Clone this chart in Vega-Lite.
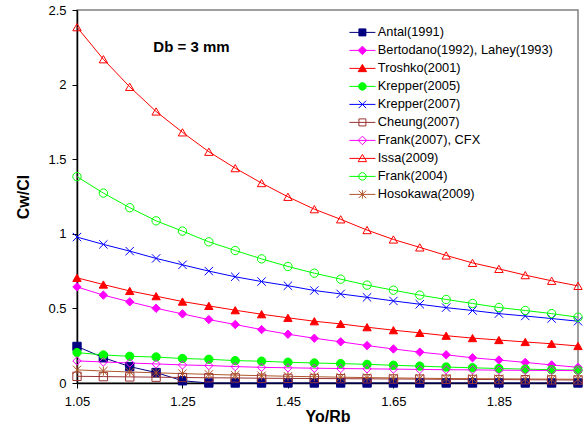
{
"$schema": "https://vega.github.io/schema/vega-lite/v6.json",
"width": 501, "height": 373,
"autosize": "none",
"padding": {"left": 77, "top": 10, "right": 9, "bottom": 46},
"background": "white",
"config": {
  "view": {"stroke": "#808080", "strokeWidth": 1.5},
  "axis": {"grid": false, "domainColor": "black", "domainWidth": 1.5, "tickColor": "black", "tickSize": 5, "labelColor": "black", "labelFont": "Liberation Sans", "labelFontSize": 13, "labelFlush": false, "titleFont": "Liberation Sans", "titleFontSize": 16, "titleFontWeight": "bold", "titleColor": "black"},
  "legend": {"labelFont": "Liberation Sans", "labelFontSize": 12.8, "labelColor": "black", "labelLimit": 0}
},
"resolve": {"scale": {"stroke": "independent", "fill": "independent", "shape": "independent"}},
"datasets": {
"curves": [
{"s":"Antal(1991)","x":1.05,"y":0.245},{"s":"Antal(1991)","x":1.10,"y":0.17},{"s":"Antal(1991)","x":1.15,"y":0.11},{"s":"Antal(1991)","x":1.20,"y":0.07},{"s":"Antal(1991)","x":1.25,"y":0.015},{"s":"Antal(1991)","x":1.30,"y":0},{"s":"Antal(1991)","x":1.35,"y":0},{"s":"Antal(1991)","x":1.40,"y":0},{"s":"Antal(1991)","x":1.45,"y":0},{"s":"Antal(1991)","x":1.50,"y":0},{"s":"Antal(1991)","x":1.55,"y":0},{"s":"Antal(1991)","x":1.60,"y":0},{"s":"Antal(1991)","x":1.65,"y":0},{"s":"Antal(1991)","x":1.70,"y":0},{"s":"Antal(1991)","x":1.75,"y":0},{"s":"Antal(1991)","x":1.80,"y":0},{"s":"Antal(1991)","x":1.85,"y":0},{"s":"Antal(1991)","x":1.90,"y":0},{"s":"Antal(1991)","x":1.95,"y":0},{"s":"Antal(1991)","x":2.00,"y":0},
{"s":"Bertodano(1992), Lahey(1993)","x":1.05,"y":0.644},{"s":"Bertodano(1992), Lahey(1993)","x":1.10,"y":0.589},{"s":"Bertodano(1992), Lahey(1993)","x":1.15,"y":0.544},{"s":"Bertodano(1992), Lahey(1993)","x":1.20,"y":0.501},{"s":"Bertodano(1992), Lahey(1993)","x":1.25,"y":0.463},{"s":"Bertodano(1992), Lahey(1993)","x":1.30,"y":0.425},{"s":"Bertodano(1992), Lahey(1993)","x":1.35,"y":0.392},{"s":"Bertodano(1992), Lahey(1993)","x":1.40,"y":0.358},{"s":"Bertodano(1992), Lahey(1993)","x":1.45,"y":0.327},{"s":"Bertodano(1992), Lahey(1993)","x":1.50,"y":0.300},{"s":"Bertodano(1992), Lahey(1993)","x":1.55,"y":0.276},{"s":"Bertodano(1992), Lahey(1993)","x":1.60,"y":0.251},{"s":"Bertodano(1992), Lahey(1993)","x":1.65,"y":0.228},{"s":"Bertodano(1992), Lahey(1993)","x":1.70,"y":0.207},{"s":"Bertodano(1992), Lahey(1993)","x":1.75,"y":0.189},{"s":"Bertodano(1992), Lahey(1993)","x":1.80,"y":0.169},{"s":"Bertodano(1992), Lahey(1993)","x":1.85,"y":0.154},{"s":"Bertodano(1992), Lahey(1993)","x":1.90,"y":0.138},{"s":"Bertodano(1992), Lahey(1993)","x":1.95,"y":0.121},{"s":"Bertodano(1992), Lahey(1993)","x":2.00,"y":0.105},
{"s":"Troshko(2001)","x":1.05,"y":0.705},{"s":"Troshko(2001)","x":1.10,"y":0.660},{"s":"Troshko(2001)","x":1.15,"y":0.617},{"s":"Troshko(2001)","x":1.20,"y":0.582},{"s":"Troshko(2001)","x":1.25,"y":0.546},{"s":"Troshko(2001)","x":1.30,"y":0.517},{"s":"Troshko(2001)","x":1.35,"y":0.488},{"s":"Troshko(2001)","x":1.40,"y":0.461},{"s":"Troshko(2001)","x":1.45,"y":0.437},{"s":"Troshko(2001)","x":1.50,"y":0.414},{"s":"Troshko(2001)","x":1.55,"y":0.396},{"s":"Troshko(2001)","x":1.60,"y":0.374},{"s":"Troshko(2001)","x":1.65,"y":0.354},{"s":"Troshko(2001)","x":1.70,"y":0.336},{"s":"Troshko(2001)","x":1.75,"y":0.317},{"s":"Troshko(2001)","x":1.80,"y":0.301},{"s":"Troshko(2001)","x":1.85,"y":0.288},{"s":"Troshko(2001)","x":1.90,"y":0.275},{"s":"Troshko(2001)","x":1.95,"y":0.263},{"s":"Troshko(2001)","x":2.00,"y":0.248},
{"s":"Krepper(2005)","x":1.05,"y":0.204},{"s":"Krepper(2005)","x":1.10,"y":0.188},{"s":"Krepper(2005)","x":1.15,"y":0.179},{"s":"Krepper(2005)","x":1.20,"y":0.174},{"s":"Krepper(2005)","x":1.25,"y":0.164},{"s":"Krepper(2005)","x":1.30,"y":0.159},{"s":"Krepper(2005)","x":1.35,"y":0.150},{"s":"Krepper(2005)","x":1.40,"y":0.146},{"s":"Krepper(2005)","x":1.45,"y":0.139},{"s":"Krepper(2005)","x":1.50,"y":0.134},{"s":"Krepper(2005)","x":1.55,"y":0.130},{"s":"Krepper(2005)","x":1.60,"y":0.125},{"s":"Krepper(2005)","x":1.65,"y":0.119},{"s":"Krepper(2005)","x":1.70,"y":0.113},{"s":"Krepper(2005)","x":1.75,"y":0.107},{"s":"Krepper(2005)","x":1.80,"y":0.102},{"s":"Krepper(2005)","x":1.85,"y":0.097},{"s":"Krepper(2005)","x":1.90,"y":0.093},{"s":"Krepper(2005)","x":1.95,"y":0.089},{"s":"Krepper(2005)","x":2.00,"y":0.086},
{"s":"Krepper(2007)","x":1.05,"y":0.978},{"s":"Krepper(2007)","x":1.10,"y":0.929},{"s":"Krepper(2007)","x":1.15,"y":0.884},{"s":"Krepper(2007)","x":1.20,"y":0.835},{"s":"Krepper(2007)","x":1.25,"y":0.792},{"s":"Krepper(2007)","x":1.30,"y":0.750},{"s":"Krepper(2007)","x":1.35,"y":0.712},{"s":"Krepper(2007)","x":1.40,"y":0.680},{"s":"Krepper(2007)","x":1.45,"y":0.652},{"s":"Krepper(2007)","x":1.50,"y":0.620},{"s":"Krepper(2007)","x":1.55,"y":0.597},{"s":"Krepper(2007)","x":1.60,"y":0.574},{"s":"Krepper(2007)","x":1.65,"y":0.550},{"s":"Krepper(2007)","x":1.70,"y":0.528},{"s":"Krepper(2007)","x":1.75,"y":0.505},{"s":"Krepper(2007)","x":1.80,"y":0.486},{"s":"Krepper(2007)","x":1.85,"y":0.465},{"s":"Krepper(2007)","x":1.90,"y":0.449},{"s":"Krepper(2007)","x":1.95,"y":0.432},{"s":"Krepper(2007)","x":2.00,"y":0.414},
{"s":"Cheung(2007)","x":1.05,"y":0.045},{"s":"Cheung(2007)","x":1.10,"y":0.043},{"s":"Cheung(2007)","x":1.15,"y":0.041},{"s":"Cheung(2007)","x":1.20,"y":0.039},{"s":"Cheung(2007)","x":1.25,"y":0.037},{"s":"Cheung(2007)","x":1.30,"y":0.035},{"s":"Cheung(2007)","x":1.35,"y":0.034},{"s":"Cheung(2007)","x":1.40,"y":0.032},{"s":"Cheung(2007)","x":1.45,"y":0.031},{"s":"Cheung(2007)","x":1.50,"y":0.030},{"s":"Cheung(2007)","x":1.55,"y":0.029},{"s":"Cheung(2007)","x":1.60,"y":0.028},{"s":"Cheung(2007)","x":1.65,"y":0.027},{"s":"Cheung(2007)","x":1.70,"y":0.026},{"s":"Cheung(2007)","x":1.75,"y":0.025},{"s":"Cheung(2007)","x":1.80,"y":0.024},{"s":"Cheung(2007)","x":1.85,"y":0.023},{"s":"Cheung(2007)","x":1.90,"y":0.022},{"s":"Cheung(2007)","x":1.95,"y":0.021},{"s":"Cheung(2007)","x":2.00,"y":0.020},
{"s":"Frank(2007), CFX","x":1.05,"y":0.148},{"s":"Frank(2007), CFX","x":1.10,"y":0.141},{"s":"Frank(2007), CFX","x":1.15,"y":0.134},{"s":"Frank(2007), CFX","x":1.20,"y":0.128},{"s":"Frank(2007), CFX","x":1.25,"y":0.121},{"s":"Frank(2007), CFX","x":1.30,"y":0.117},{"s":"Frank(2007), CFX","x":1.35,"y":0.110},{"s":"Frank(2007), CFX","x":1.40,"y":0.105},{"s":"Frank(2007), CFX","x":1.45,"y":0.102},{"s":"Frank(2007), CFX","x":1.50,"y":0.099},{"s":"Frank(2007), CFX","x":1.55,"y":0.097},{"s":"Frank(2007), CFX","x":1.60,"y":0.095},{"s":"Frank(2007), CFX","x":1.65,"y":0.093},{"s":"Frank(2007), CFX","x":1.70,"y":0.091},{"s":"Frank(2007), CFX","x":1.75,"y":0.089},{"s":"Frank(2007), CFX","x":1.80,"y":0.088},{"s":"Frank(2007), CFX","x":1.85,"y":0.086},{"s":"Frank(2007), CFX","x":1.90,"y":0.085},{"s":"Frank(2007), CFX","x":1.95,"y":0.084},{"s":"Frank(2007), CFX","x":2.00,"y":0.083},
{"s":"Issa(2009)","x":1.05,"y":2.385},{"s":"Issa(2009)","x":1.10,"y":2.17},{"s":"Issa(2009)","x":1.15,"y":1.985},{"s":"Issa(2009)","x":1.20,"y":1.82},{"s":"Issa(2009)","x":1.25,"y":1.68},{"s":"Issa(2009)","x":1.30,"y":1.55},{"s":"Issa(2009)","x":1.35,"y":1.44},{"s":"Issa(2009)","x":1.40,"y":1.34},{"s":"Issa(2009)","x":1.45,"y":1.248},{"s":"Issa(2009)","x":1.50,"y":1.165},{"s":"Issa(2009)","x":1.55,"y":1.097},{"s":"Issa(2009)","x":1.60,"y":1.025},{"s":"Issa(2009)","x":1.65,"y":0.962},{"s":"Issa(2009)","x":1.70,"y":0.909},{"s":"Issa(2009)","x":1.75,"y":0.855},{"s":"Issa(2009)","x":1.80,"y":0.805},{"s":"Issa(2009)","x":1.85,"y":0.765},{"s":"Issa(2009)","x":1.90,"y":0.723},{"s":"Issa(2009)","x":1.95,"y":0.685},{"s":"Issa(2009)","x":2.00,"y":0.651},
{"s":"Frank(2004)","x":1.05,"y":1.383},{"s":"Frank(2004)","x":1.10,"y":1.273},{"s":"Frank(2004)","x":1.15,"y":1.175},{"s":"Frank(2004)","x":1.20,"y":1.087},{"s":"Frank(2004)","x":1.25,"y":1.018},{"s":"Frank(2004)","x":1.30,"y":0.946},{"s":"Frank(2004)","x":1.35,"y":0.888},{"s":"Frank(2004)","x":1.40,"y":0.832},{"s":"Frank(2004)","x":1.45,"y":0.781},{"s":"Frank(2004)","x":1.50,"y":0.736},{"s":"Frank(2004)","x":1.55,"y":0.696},{"s":"Frank(2004)","x":1.60,"y":0.656},{"s":"Frank(2004)","x":1.65,"y":0.622},{"s":"Frank(2004)","x":1.70,"y":0.589},{"s":"Frank(2004)","x":1.75,"y":0.560},{"s":"Frank(2004)","x":1.80,"y":0.533},{"s":"Frank(2004)","x":1.85,"y":0.506},{"s":"Frank(2004)","x":1.90,"y":0.486},{"s":"Frank(2004)","x":1.95,"y":0.465},{"s":"Frank(2004)","x":2.00,"y":0.441},
{"s":"Hosokawa(2009)","x":1.05,"y":0.088},{"s":"Hosokawa(2009)","x":1.10,"y":0.080},{"s":"Hosokawa(2009)","x":1.15,"y":0.074},{"s":"Hosokawa(2009)","x":1.20,"y":0.068},{"s":"Hosokawa(2009)","x":1.25,"y":0.063},{"s":"Hosokawa(2009)","x":1.30,"y":0.058},{"s":"Hosokawa(2009)","x":1.35,"y":0.053},{"s":"Hosokawa(2009)","x":1.40,"y":0.049},{"s":"Hosokawa(2009)","x":1.45,"y":0.045},{"s":"Hosokawa(2009)","x":1.50,"y":0.042},{"s":"Hosokawa(2009)","x":1.55,"y":0.039},{"s":"Hosokawa(2009)","x":1.60,"y":0.036},{"s":"Hosokawa(2009)","x":1.65,"y":0.034},{"s":"Hosokawa(2009)","x":1.70,"y":0.032},{"s":"Hosokawa(2009)","x":1.75,"y":0.030},{"s":"Hosokawa(2009)","x":1.80,"y":0.029},{"s":"Hosokawa(2009)","x":1.85,"y":0.028},{"s":"Hosokawa(2009)","x":1.90,"y":0.027},{"s":"Hosokawa(2009)","x":1.95,"y":0.026},{"s":"Hosokawa(2009)","x":2.00,"y":0.025}
],
"note": [{"x": 1.267, "y": 2.255, "label": "Db = 3 mm"}]
},
"layer": [
{
  "data": {"name": "curves"},
  "mark": {"type": "line", "strokeWidth": 1},
  "encoding": {
    "x": {"field": "x", "type": "quantitative", "scale": {"domain": [1.05, 2.0], "nice": false, "zero": false},
          "axis": {"values": [1.05, 1.25, 1.45, 1.65, 1.85], "format": ".2f", "title": "Yo/Rb", "labelPadding": 7, "titlePadding": 0}},
    "y": {"field": "y", "type": "quantitative", "scale": {"domain": [0, 2.5], "nice": false},
          "axis": {"values": [0, 0.5, 1, 1.5, 2, 2.5], "format": "~g", "title": "Cw/Cl", "labelPadding": 6, "titlePadding": 16}},
    "stroke": {"field": "s", "type": "nominal",
      "scale": {"domain": ["Antal(1991)","Bertodano(1992), Lahey(1993)","Troshko(2001)","Krepper(2005)","Krepper(2007)","Cheung(2007)","Frank(2007), CFX","Issa(2009)","Frank(2004)","Hosokawa(2009)"],
                "range": ["#000080","#ff00ff","#ff0000","#00ff00","#0000ff","#993333","#ff00ff","#ff0000","#00ff00","#b0562b"]},
      "legend": null},
    "detail": {"field": "s"}
  }
},
{
  "data": {"name": "curves"},
  "mark": {"type": "point", "size": 70, "strokeWidth": 1, "opacity": 1},
  "encoding": {
    "x": {"field": "x", "type": "quantitative"},
    "y": {"field": "y", "type": "quantitative"},
    "stroke": {"field": "s", "type": "nominal",
      "scale": {"domain": ["Antal(1991)","Bertodano(1992), Lahey(1993)","Troshko(2001)","Krepper(2005)","Krepper(2007)","Cheung(2007)","Frank(2007), CFX","Issa(2009)","Frank(2004)","Hosokawa(2009)"],
                "range": ["#000080","#ff00ff","#ff0000","#00ff00","#0000ff","#993333","#ff00ff","#ff0000","#00ff00","#b0562b"]},
      "legend": null},
    "fill": {"field": "s", "type": "nominal",
      "scale": {"domain": ["Antal(1991)","Bertodano(1992), Lahey(1993)","Troshko(2001)","Krepper(2005)","Krepper(2007)","Cheung(2007)","Frank(2007), CFX","Issa(2009)","Frank(2004)","Hosokawa(2009)"],
                "range": ["#000080","#ff00ff","#ff0000","#00ff00","transparent","transparent","transparent","transparent","transparent","transparent"]},
      "legend": null},
    "shape": {"field": "s", "type": "nominal",
      "scale": {"domain": ["Antal(1991)","Bertodano(1992), Lahey(1993)","Troshko(2001)","Krepper(2005)","Krepper(2007)","Cheung(2007)","Frank(2007), CFX","Issa(2009)","Frank(2004)","Hosokawa(2009)"],
                "range": ["square","diamond","triangle-up","circle","M-1,-1L1,1M-1,1L1,-1","square","diamond","triangle-up","circle","M-1,-1L1,1M-1,1L1,-1M0,-1.1V1.1"]},
      "legend": null}
  }
},
{
  "data": {"name": "curves"},
  "transform": [{"filter": "datum.x == 1.05"}],
  "mark": {"type": "point", "size": 1, "strokeWidth": 1, "opacity": 0},
  "encoding": {
    "x": {"field": "x", "type": "quantitative"},
    "y": {"field": "y", "type": "quantitative"},
    "stroke": {"field": "s", "type": "nominal",
      "scale": {"domain": ["Antal(1991)","Bertodano(1992), Lahey(1993)","Troshko(2001)","Krepper(2005)","Krepper(2007)","Cheung(2007)","Frank(2007), CFX","Issa(2009)","Frank(2004)","Hosokawa(2009)"],
                "range": ["#000080","#ff00ff","#ff0000","#00ff00","#0000ff","#993333","#ff00ff","#ff0000","#00ff00","#b0562b"]},
      "legend": {"title": null, "orient": "none", "legendX": 279, "legendY": 16, "padding": 0, "rowPadding": 4, "symbolSize": 100, "labelOffset": 9, "symbolOpacity": 1, "symbolStrokeWidth": 1}},
    "fill": {"field": "s", "type": "nominal",
      "scale": {"domain": ["Antal(1991)","Bertodano(1992), Lahey(1993)","Troshko(2001)","Krepper(2005)","Krepper(2007)","Cheung(2007)","Frank(2007), CFX","Issa(2009)","Frank(2004)","Hosokawa(2009)"],
                "range": ["#000080","#ff00ff","#ff0000","#00ff00","transparent","transparent","transparent","transparent","transparent","transparent"]},
      "legend": {"title": null, "orient": "none", "legendX": 279, "legendY": 16, "padding": 0, "rowPadding": 4, "symbolSize": 100, "labelOffset": 9, "symbolOpacity": 1, "symbolStrokeWidth": 1}},
    "shape": {"field": "s", "type": "nominal",
      "scale": {"domain": ["Antal(1991)","Bertodano(1992), Lahey(1993)","Troshko(2001)","Krepper(2005)","Krepper(2007)","Cheung(2007)","Frank(2007), CFX","Issa(2009)","Frank(2004)","Hosokawa(2009)"],
                "range": ["M-2.6,0H2.6M-0.7,-0.7H0.7V0.7H-0.7Z","M-2.6,0H2.6M0,-0.85L0.85,0L0,0.85L-0.85,0Z","M-2.6,0H2.6M0,-0.8L0.85,0.65H-0.85Z","M-2.6,0H2.6M0.75,0A0.75,0.75 0 1,1 -0.75,0A0.75,0.75 0 1,1 0.75,0Z","M-2.6,0H2.6M-0.75,-0.75L0.75,0.75M-0.75,0.75L0.75,-0.75","M-2.6,0H2.6M-0.7,-0.7H0.7V0.7H-0.7Z","M-2.6,0H2.6M0,-0.85L0.85,0L0,0.85L-0.85,0Z","M-2.6,0H2.6M0,-0.8L0.85,0.65H-0.85Z","M-2.6,0H2.6M0.75,0A0.75,0.75 0 1,1 -0.75,0A0.75,0.75 0 1,1 0.75,0Z","M-2.6,0H2.6M-0.75,-0.75L0.75,0.75M-0.75,0.75L0.75,-0.75M0,-0.85V0.85"]},
      "legend": {"title": null, "orient": "none", "legendX": 279, "legendY": 16, "padding": 0, "rowPadding": 4, "symbolSize": 100, "labelOffset": 9, "symbolOpacity": 1, "symbolStrokeWidth": 1}}
  }
},
{
  "data": {"name": "note"},
  "mark": {"type": "text", "font": "Liberation Sans", "fontSize": 15, "fontWeight": "bold", "color": "black"},
  "encoding": {
    "x": {"field": "x", "type": "quantitative"},
    "y": {"field": "y", "type": "quantitative"},
    "text": {"field": "label"}
  }
}
]
}
